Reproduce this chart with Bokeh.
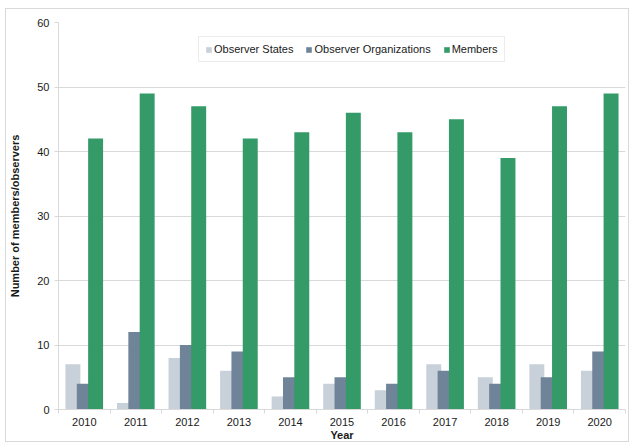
from bokeh.plotting import figure
from bokeh.models import (ColumnDataSource, Range1d, LinearAxis,
                          FixedTicker, Legend, LegendItem)
from bokeh.transform import dodge
from bokeh.embed import file_html
from bokeh.resources import INLINE

years = ["2010", "2011", "2012", "2013", "2014", "2015", "2016", "2017", "2018", "2019", "2020"]
observer_states = [7, 1, 8, 6, 2, 4, 3, 7, 5, 7, 6]
observer_orgs = [4, 12, 10, 9, 5, 5, 4, 6, 4, 5, 9]
members = [42, 49, 47, 42, 43, 46, 43, 45, 39, 47, 49]
series_names = ["Observer States", "Observer Organizations", "Members"]
y_ticks = [0, 10, 20, 30, 40, 50, 60]

colors = ["#c8d0da", "#6f8499", "#339a68"]
FONT = "Liberation Sans"
GRID = "#d9d9d9"
TXT = "#1a1a1a"

n = len(years)
centers = [i + 0.5 for i in range(n)]
src = ColumnDataSource(dict(pos=centers, year=years, states=observer_states,
                            orgs=observer_orgs, members=members))

p = figure(width=624, height=434,
           x_range=Range1d(0, n),
           y_range=Range1d(0, 60),
           output_backend="svg", toolbar_location=None,
           x_axis_location=None,
           min_border_left=51, min_border_right=5,
           min_border_top=13, min_border_bottom=31)

p.styles = {"border": "1px solid #d9d9d9", "margin-left": "5px", "margin-top": "8px"}
p.outline_line_color = None
p.background_fill_color = "white"
p.border_fill_color = "white"

# bars
bw = 0.29
r1 = p.vbar(x=dodge("pos", -0.22), top="states", width=bw,
            source=src, fill_color=colors[0], line_color=None)
r2 = p.vbar(x=dodge("pos", 0.0), top="orgs", width=bw,
            source=src, fill_color=colors[1], line_color=None)
r3 = p.vbar(x=dodge("pos", 0.22), top="members", width=bw,
            source=src, fill_color=colors[2], line_color=None)

# x axis: boundary ticks
tick_axis = LinearAxis(ticker=FixedTicker(ticks=list(range(n + 1))),
                       major_label_overrides={i: "" for i in range(n + 1)},
                       major_tick_in=0, major_tick_out=4,
                       minor_tick_line_color=None,
                       axis_line_color=GRID, major_tick_line_color=GRID,
                       major_label_standoff=0,
                       major_label_text_font_size="1px")
p.add_layout(tick_axis, "below")

# x axis: year labels at category centres
label_axis = LinearAxis(ticker=FixedTicker(ticks=centers),
                        major_label_overrides={c: y for c, y in zip(centers, years)},
                        axis_line_color=None, major_tick_line_color=None,
                        minor_tick_line_color=None,
                        major_label_standoff=-2,
                        major_label_text_font=FONT,
                        major_label_text_font_size="11px",
                        major_label_text_color=TXT,
                        axis_label="Year",
                        axis_label_standoff=0,
                        axis_label_text_font=FONT,
                        axis_label_text_font_size="11px",
                        axis_label_text_font_style="bold",
                        axis_label_text_color=TXT)
p.add_layout(label_axis, "below")

# y axis
p.yaxis.ticker = FixedTicker(ticks=y_ticks)
p.yaxis.axis_line_color = GRID
p.yaxis.major_tick_line_color = GRID
p.yaxis.major_tick_in = 0
p.yaxis.major_tick_out = 4
p.yaxis.minor_tick_line_color = None
p.yaxis.major_label_standoff = 5
p.yaxis.major_label_text_font = FONT
p.yaxis.major_label_text_font_size = "11px"
p.yaxis.major_label_text_color = TXT
p.yaxis.axis_label = "Number of members/observers"
p.yaxis.axis_label_text_font = FONT
p.yaxis.axis_label_text_font_size = "11px"
p.yaxis.axis_label_text_font_style = "bold"
p.yaxis.axis_label_text_color = TXT
p.yaxis.axis_label_standoff = 13

p.ygrid.grid_line_color = GRID
p.ygrid.ticker = FixedTicker(ticks=y_ticks)
p.xgrid.grid_line_color = None

legend = Legend(items=[LegendItem(label=series_names[0], renderers=[r1]),
                       LegendItem(label=series_names[1], renderers=[r2]),
                       LegendItem(label=series_names[2], renderers=[r3])],
                orientation="horizontal",
                location=(140, 347),
                border_line_color=GRID,
                background_fill_alpha=1,
                label_text_font=FONT,
                label_text_font_size="11px",
                label_text_color=TXT,
                glyph_width=7, glyph_height=7,
                label_standoff=2, spacing=12,
                padding=6, margin=0,
                label_height=12)
p.add_layout(legend, "center")

open("out.html", "w").write(file_html(p, INLINE))
